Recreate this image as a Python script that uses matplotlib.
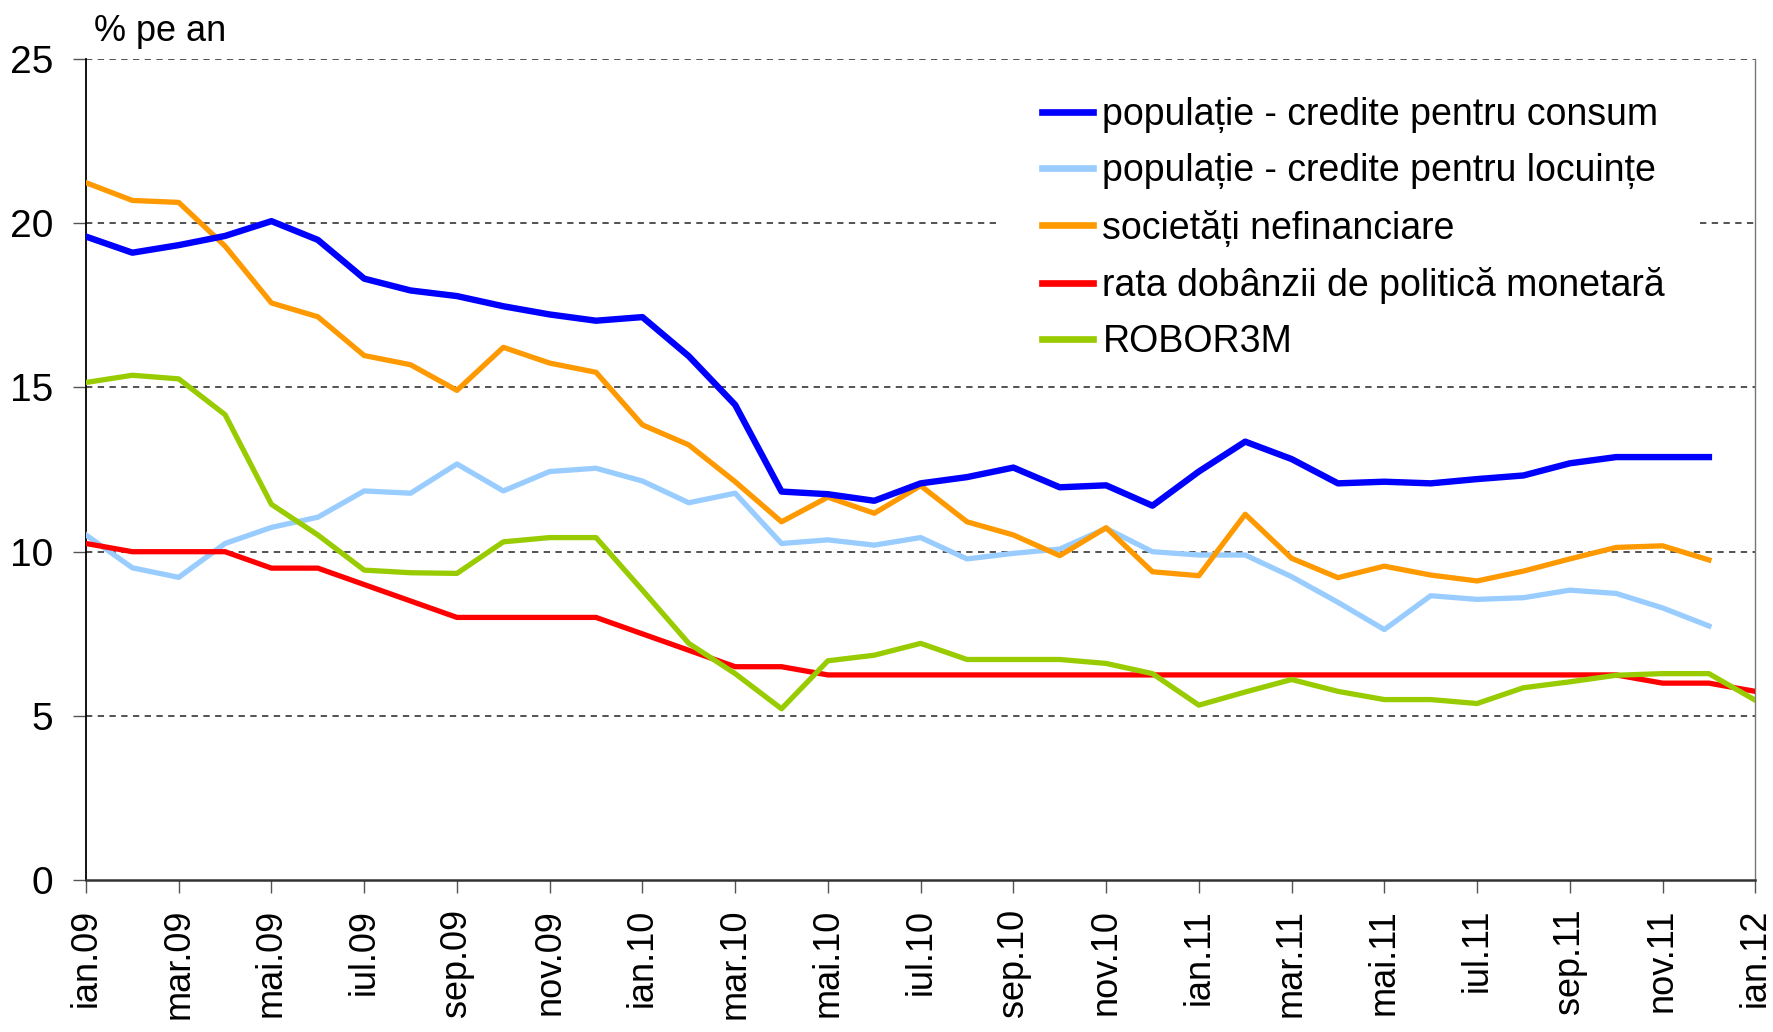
import matplotlib
matplotlib.use("Agg")
import matplotlib.pyplot as plt
import numpy as np

plt.rcParams['font.family'] = ['Liberation Sans', 'DejaVu Sans']

months = list(range(37))
tick_labels = ["ian.09", "mar.09", "mai.09", "iul.09", "sep.09", "nov.09",
               "ian.10", "mar.10", "mai.10", "iul.10", "sep.10", "nov.10",
               "ian.11", "mar.11", "mai.11", "iul.11", "sep.11", "nov.11", "ian.12"]

consum = [19.59, 19.10, 19.33, 19.61, 20.06, 19.49, 18.31, 17.95, 17.78, 17.47,
          17.22, 17.03, 17.14, 15.95, 14.47, 11.83, 11.75, 11.55, 12.08, 12.27,
          12.56, 11.96, 12.02, 11.40, 12.44, 13.35, 12.82, 12.08, 12.13, 12.08,
          12.21, 12.32, 12.69, 12.88, 12.88, 12.88]
locuinte = [10.51, 9.51, 9.22, 10.25, 10.74, 11.05, 11.85, 11.78, 12.67, 11.85,
            12.44, 12.54, 12.15, 11.49, 11.78, 10.25, 10.36, 10.20, 10.43, 9.78,
            9.95, 10.08, 10.71, 10.00, 9.90, 9.90, 9.24, 8.46, 7.63, 8.66,
            8.55, 8.60, 8.83, 8.73, 8.29, 7.74]
societati = [21.23, 20.69, 20.63, 19.30, 17.57, 17.15, 15.97, 15.69, 14.91, 16.22,
             15.74, 15.46, 13.86, 13.25, 12.13, 10.91, 11.66, 11.17, 12.01, 10.91,
             10.51, 9.88, 10.73, 9.39, 9.27, 11.14, 9.80, 9.21, 9.56, 9.29,
             9.11, 9.41, 9.78, 10.13, 10.18, 9.75]
politica = [10.25, 10.0, 10.0, 10.0, 9.5, 9.5, 9.0, 8.5, 8.0, 8.0,
            8.0, 8.0, 7.5, 7.0, 6.5, 6.5, 6.25, 6.25, 6.25, 6.25,
            6.25, 6.25, 6.25, 6.25, 6.25, 6.25, 6.25, 6.25, 6.25, 6.25,
            6.25, 6.25, 6.25, 6.25, 6.0, 6.0, 5.75]
robor = [15.15, 15.37, 15.26, 14.17, 11.44, 10.51, 9.44, 9.36, 9.34, 10.30,
         10.43, 10.43, 8.83, 7.21, 6.29, 5.22, 6.68, 6.85, 7.21, 6.72,
         6.72, 6.72, 6.60, 6.29, 5.33, 5.73, 6.11, 5.75, 5.50, 5.50,
         5.38, 5.86, 6.04, 6.24, 6.29, 6.29, 5.48]

labels = ["populație - credite pentru consum",
          "populație - credite pentru locuințe",
          "societăți nefinanciare",
          "rata dobânzii de politică monetară",
          "ROBOR3M"]

fig = plt.figure(figsize=(17.73, 10.32), dpi=100)
ax = fig.add_axes([0.0485, 0.147, 0.9415, 0.796])

ax.plot(months[:36], consum, color="#0000FF", lw=4.6, label=labels[0], zorder=5)
ax.plot(months[:36], locuinte, color="#99CCFF", lw=3.8, label=labels[1], zorder=3)
ax.plot(months[:36], societati, color="#FF9900", lw=3.8, label=labels[2], zorder=4)
ax.plot(months, politica, color="#FF0000", lw=3.8, label=labels[3], zorder=3)
ax.plot(months, robor, color="#99CC00", lw=3.8, label=labels[4], zorder=4)

ax.set_xlim(0, 36)
ax.set_ylim(0, 25)
ax.set_yticks([0, 5, 10, 15, 20, 25])
ax.set_xticks(list(range(0, 37, 2)))
ax.set_xticklabels(tick_labels, rotation=90, fontsize=26)
ax.tick_params(axis='y', labelsize=28, length=9.5, width=1, direction='out', pad=14,
               color='#555555')
ax.tick_params(axis='x', length=9.5, width=1, direction='out', pad=11, color='#555555')

grid_kw = dict(color='#444444', lw=1.3, ls=(0, (3.5, 3)), zorder=1)
for y in [5, 10, 15, 25]:
    ax.axhline(y, **grid_kw)
# gridline at 20 is hidden behind the legend's white box
ax.axhline(20, xmin=0, xmax=0.548, **grid_kw)
ax.axhline(20, xmin=0.967, xmax=1, **grid_kw)

ax.spines['top'].set_visible(False)
ax.spines['right'].set_color('#777777')
ax.spines['right'].set_linewidth(1)
ax.spines['left'].set_linewidth(1.3)
ax.spines['bottom'].set_linewidth(1.8)
ax.spines['bottom'].set_color('#333333')

leg = ax.legend(loc='upper left', bbox_to_anchor=(0.555, 0.99), fontsize=27,
                frameon=False, handlelength=1.35, handletextpad=0.25,
                labelspacing=0.54, borderpad=0.3)
leg.set_zorder(10)
for line in leg.get_lines():
    line.set_linewidth(4.8)

fig.text(0.053, 0.969, "% pe an", fontsize=26, va='center', ha='left')

fig.savefig("out.png", dpi=100)
